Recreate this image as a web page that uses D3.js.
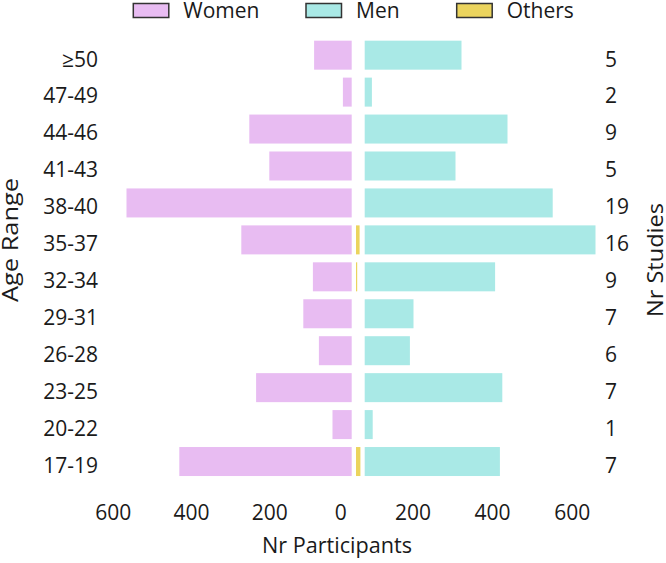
<!DOCTYPE html>
<html>
<head>
<meta charset="utf-8">
<script src="https://cdn.jsdelivr.net/npm/d3@7"></script>
<style>
  body { margin: 0; background: #fff; }
  svg { display: block; }
  text { font-family: "Open Sans", sans-serif; fill: #1a1a1a; }
</style>
</head>
<body>
<svg id="chart" width="666" height="563"></svg>
<script>
const categories = ["≥50","47-49","44-46","41-43","38-40","35-37","32-34","29-31","26-28","23-25","20-22","17-19"];
const women  = [94, 22, 256, 206, 563, 276, 97, 121, 82, 239, 48, 431];
const men    = [242, 18, 357, 227, 470, 577, 326, 122, 113, 344, 20, 338];
const others = [0, 0, 0, 0, 0, 9, 3, 0, 0, 0, 0, 11];
const studies = [5, 2, 9, 5, 19, 16, 9, 7, 6, 7, 1, 7];
const tickValues = [200, 400, 600];
const seriesNames = ["Women", "Men", "Others"];
const colors = { Women: "#e8bcf2", Men: "#a9e9e6", Others: "#ebd45e" };

const svg = d3.select("#chart");
const fs = 21;

const y = d3.scaleBand().domain(categories).range([36.7, 480])
  .paddingInner(0.215).paddingOuter(0.1075);
const xW = d3.scaleLinear().domain([0, 600]).range([351.7, 111.7]);
const xM = d3.scaleLinear().domain([0, 600]).range([364.7, 604.7]);
const xO = d3.scaleLinear().domain([0, 600]).range([356, 596]);

// axis label scales (as positioned in the figure)
const axL = d3.scaleLinear().domain([0, 600]).range([347.4, 112.8]);
const axR = d3.scaleLinear().domain([0, 600]).range([332.9, 571.7]);

const rows = categories.map((c, i) => ({ c, w: women[i], m: men[i], o: others[i], s: studies[i] }));

svg.append("g").selectAll("rect").data(rows).join("rect")
  .attr("x", d => xW(d.w)).attr("y", d => y(d.c))
  .attr("width", d => xW(0) - xW(d.w)).attr("height", y.bandwidth())
  .attr("fill", colors.Women);

svg.append("g").selectAll("rect").data(rows).join("rect")
  .attr("x", xM(0)).attr("y", d => y(d.c))
  .attr("width", d => xM(d.m) - xM(0)).attr("height", y.bandwidth())
  .attr("fill", colors.Men);

svg.append("g").selectAll("rect").data(rows.filter(d => d.o > 0)).join("rect")
  .attr("x", xO(0)).attr("y", d => y(d.c))
  .attr("width", d => xO(d.o) - xO(0)).attr("height", y.bandwidth())
  .attr("fill", colors.Others);

// Age labels
svg.append("g").selectAll("text").data(rows).join("text")
  .attr("x", 98).attr("y", d => y(d.c) + y.bandwidth() / 2 + 4)
  .attr("dy", "0.35em").attr("text-anchor", "end")
  .style("font-size", fs + "px").text(d => d.c);

// Nr studies labels
svg.append("g").selectAll("text").data(rows).join("text")
  .attr("x", 605).attr("y", d => y(d.c) + y.bandwidth() / 2 + 4)
  .attr("dy", "0.35em").attr("text-anchor", "start")
  .style("font-size", fs + "px").text(d => d.s);

// bottom axes (labels only)
function styleAxis(g) {
  g.select(".domain").remove();
  g.selectAll(".tick line").remove();
  g.selectAll(".tick text").style("font-size", fs + "px")
    .style("font-family", "'Open Sans', sans-serif").attr("fill", "#1a1a1a");
}
svg.append("g").attr("transform", "translate(0,505)")
  .call(d3.axisBottom(axL).tickValues(tickValues).tickSize(0).tickPadding(0).tickFormat(d3.format("d")))
  .call(styleAxis);
svg.append("g").attr("transform", "translate(0,505)")
  .call(d3.axisBottom(axR).tickValues(tickValues).tickSize(0).tickPadding(0).tickFormat(d3.format("d")))
  .call(styleAxis);
svg.append("text").attr("x", (axL(0) + axR(0)) / 2 + 0.7).attr("y", 520)
  .attr("text-anchor", "middle").style("font-size", fs + "px").text("0");

// axis titles
svg.append("text").attr("x", 337).attr("y", 553).attr("text-anchor", "middle")
  .attr("textLength", 150).attr("lengthAdjust", "spacingAndGlyphs")
  .style("font-size", fs + "px").text("Nr Participants");
svg.append("text").attr("transform", "translate(18,240) rotate(-90)")
  .attr("text-anchor", "middle")
  .attr("textLength", 124).attr("lengthAdjust", "spacingAndGlyphs")
  .style("font-size", fs + "px").text("Age Range");
svg.append("text").attr("transform", "translate(663,260) rotate(-90)")
  .attr("text-anchor", "middle")
  .attr("textLength", 114).attr("lengthAdjust", "spacingAndGlyphs")
  .style("font-size", fs + "px").text("Nr Studies");

// legend
const legX = { Women: 133.3, Men: 306, Others: 456.7 };
const leg = svg.append("g").selectAll("g").data(seriesNames).join("g")
  .attr("transform", d => `translate(${legX[d]},0)`);
leg.append("rect").attr("x", 0).attr("y", 3.5).attr("width", 35.5).attr("height", 14)
  .attr("fill", d => colors[d]).attr("stroke", "#333").attr("stroke-width", 1.5);
leg.append("text").attr("x", 50).attr("y", 17.5).style("font-size", fs + "px").text(d => d);
</script>
</body>
</html>
